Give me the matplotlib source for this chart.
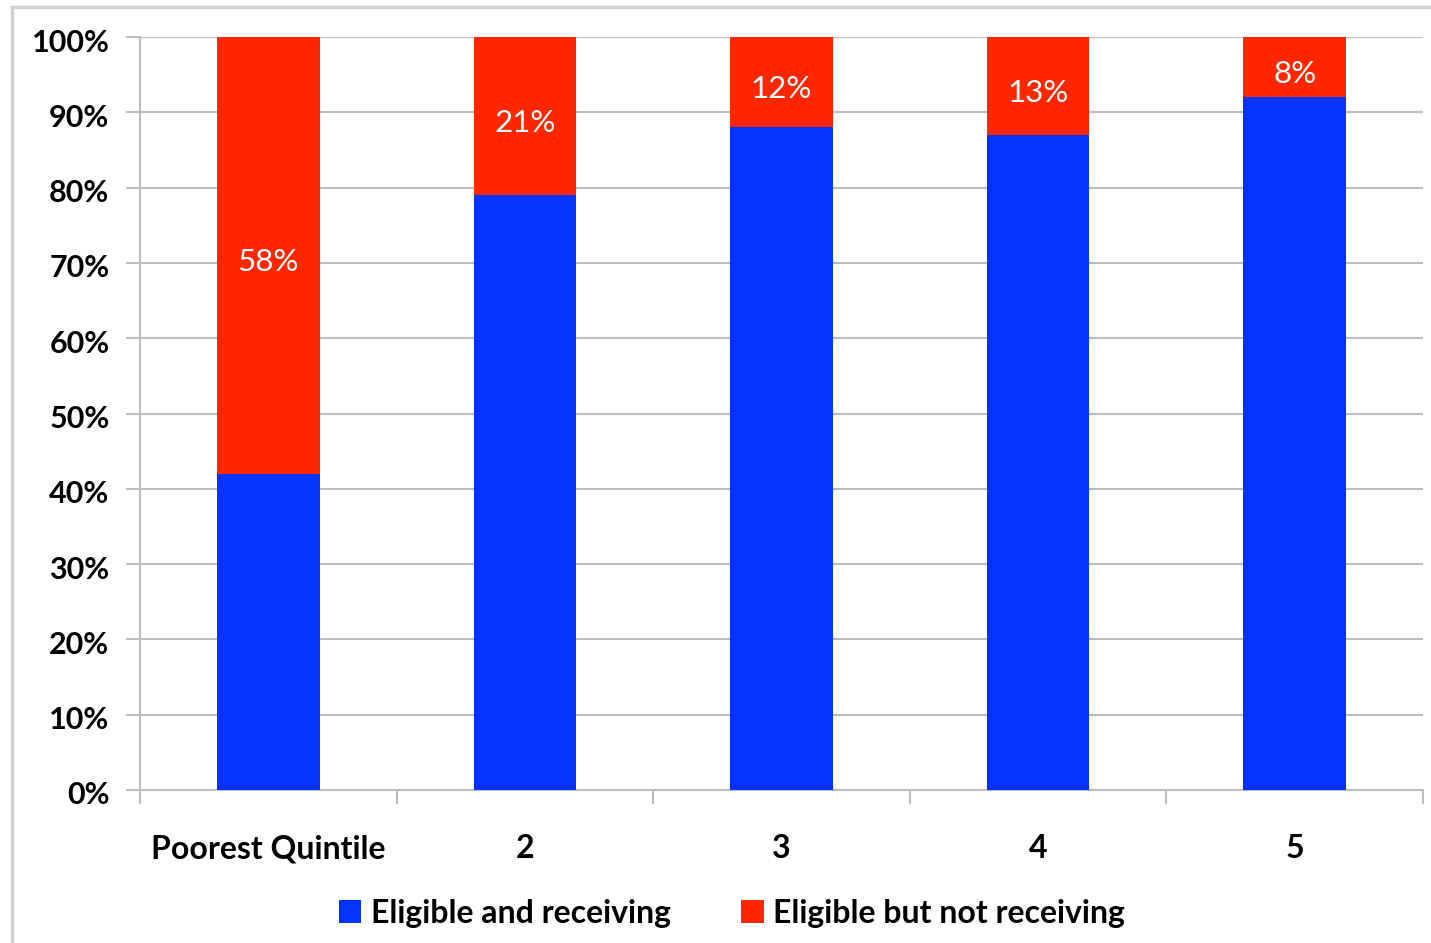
import matplotlib
matplotlib.use("Agg")
import matplotlib.pyplot as plt
from matplotlib.patches import Rectangle
from matplotlib.transforms import ScaledTranslation
import numpy as np

categories = ["Poorest Quintile", "2", "3", "4", "5"]
receiving = [42, 79, 88, 87, 92]
not_receiving = [58, 21, 12, 13, 8]
labels_nr = ["58%", "21%", "12%", "13%", "8%"]
yticks = [0, 10, 20, 30, 40, 50, 60, 70, 80, 90, 100]

BLUE = "#0433FF"
RED = "#FF2600"
GRID = "#BDBDBD"

plt.rcParams['font.family'] = ['Lato', 'DejaVu Sans']

W, H = 1431, 943
fig = plt.figure(figsize=(W / 100, H / 100), dpi=100)
ax = fig.add_axes([140 / W, 1 - 790 / H, (1423 - 140) / W, (790 - 37) / H])

# Outer frame
fig.patches.append(Rectangle((12 / W, -0.1), 1.2, (H - 7) / H + 0.1, transform=fig.transFigure,
                             fill=False, edgecolor="#D0D0D0", linewidth=2.5))

x = np.arange(len(categories))
bw = 0.40
ax.bar(x, receiving, bw, color=BLUE, label="Eligible and receiving", zorder=3)
ax.bar(x, not_receiving, bw, bottom=receiving, color=RED, label="Eligible but not receiving", zorder=3)

down = ScaledTranslation(0, -7 / 100, fig.dpi_scale_trans)
for i, (b, v, t) in enumerate(zip(receiving, not_receiving, labels_nr)):
    ax.text(x[i], b + v / 2, t, ha="center", va="center", color="white", fontsize=22.5, zorder=4,
            transform=ax.transData + down)

ax.set_xlim(-0.5, len(categories) - 0.5)
ax.set_ylim(0, 100)
ax.set_yticks(yticks)
ax.set_yticklabels([f"{v}%" for v in yticks], fontsize=22, fontweight="bold")
ax.yaxis.grid(True, color=GRID, linewidth=1.5, zorder=0)
ax.tick_params(axis="y", length=10, color=GRID, width=1.5, pad=12)
ydown = ScaledTranslation(0, -3 / 100, fig.dpi_scale_trans)
for lab in ax.get_yticklabels():
    lab.set_transform(lab.get_transform() + ydown)

ax.set_xticks(np.arange(-0.5, len(categories) + 0.5, 1.0))
ax.set_xticklabels([])
ax.set_xticks(x, minor=True)
ax.set_xticklabels(categories, minor=True, fontsize=23, fontweight="bold")
ax.tick_params(axis="x", which="major", length=10, color=GRID, width=1.5, direction="out")
ax.tick_params(axis="x", which="minor", length=0, pad=32)

for s in ["top", "right"]:
    ax.spines[s].set_visible(False)
for s in ["left", "bottom"]:
    ax.spines[s].set_color(GRID)
    ax.spines[s].set_linewidth(1.5)

leg = fig.legend(loc="center", bbox_to_anchor=(732 / W, 1 - 913 / H), ncol=2, frameon=False,
                 prop={"size": 23, "weight": "bold"}, handlelength=0.7, handleheight=0.7,
                 handletextpad=0.3, columnspacing=2.2)

fig.savefig("out.png", dpi=100)
